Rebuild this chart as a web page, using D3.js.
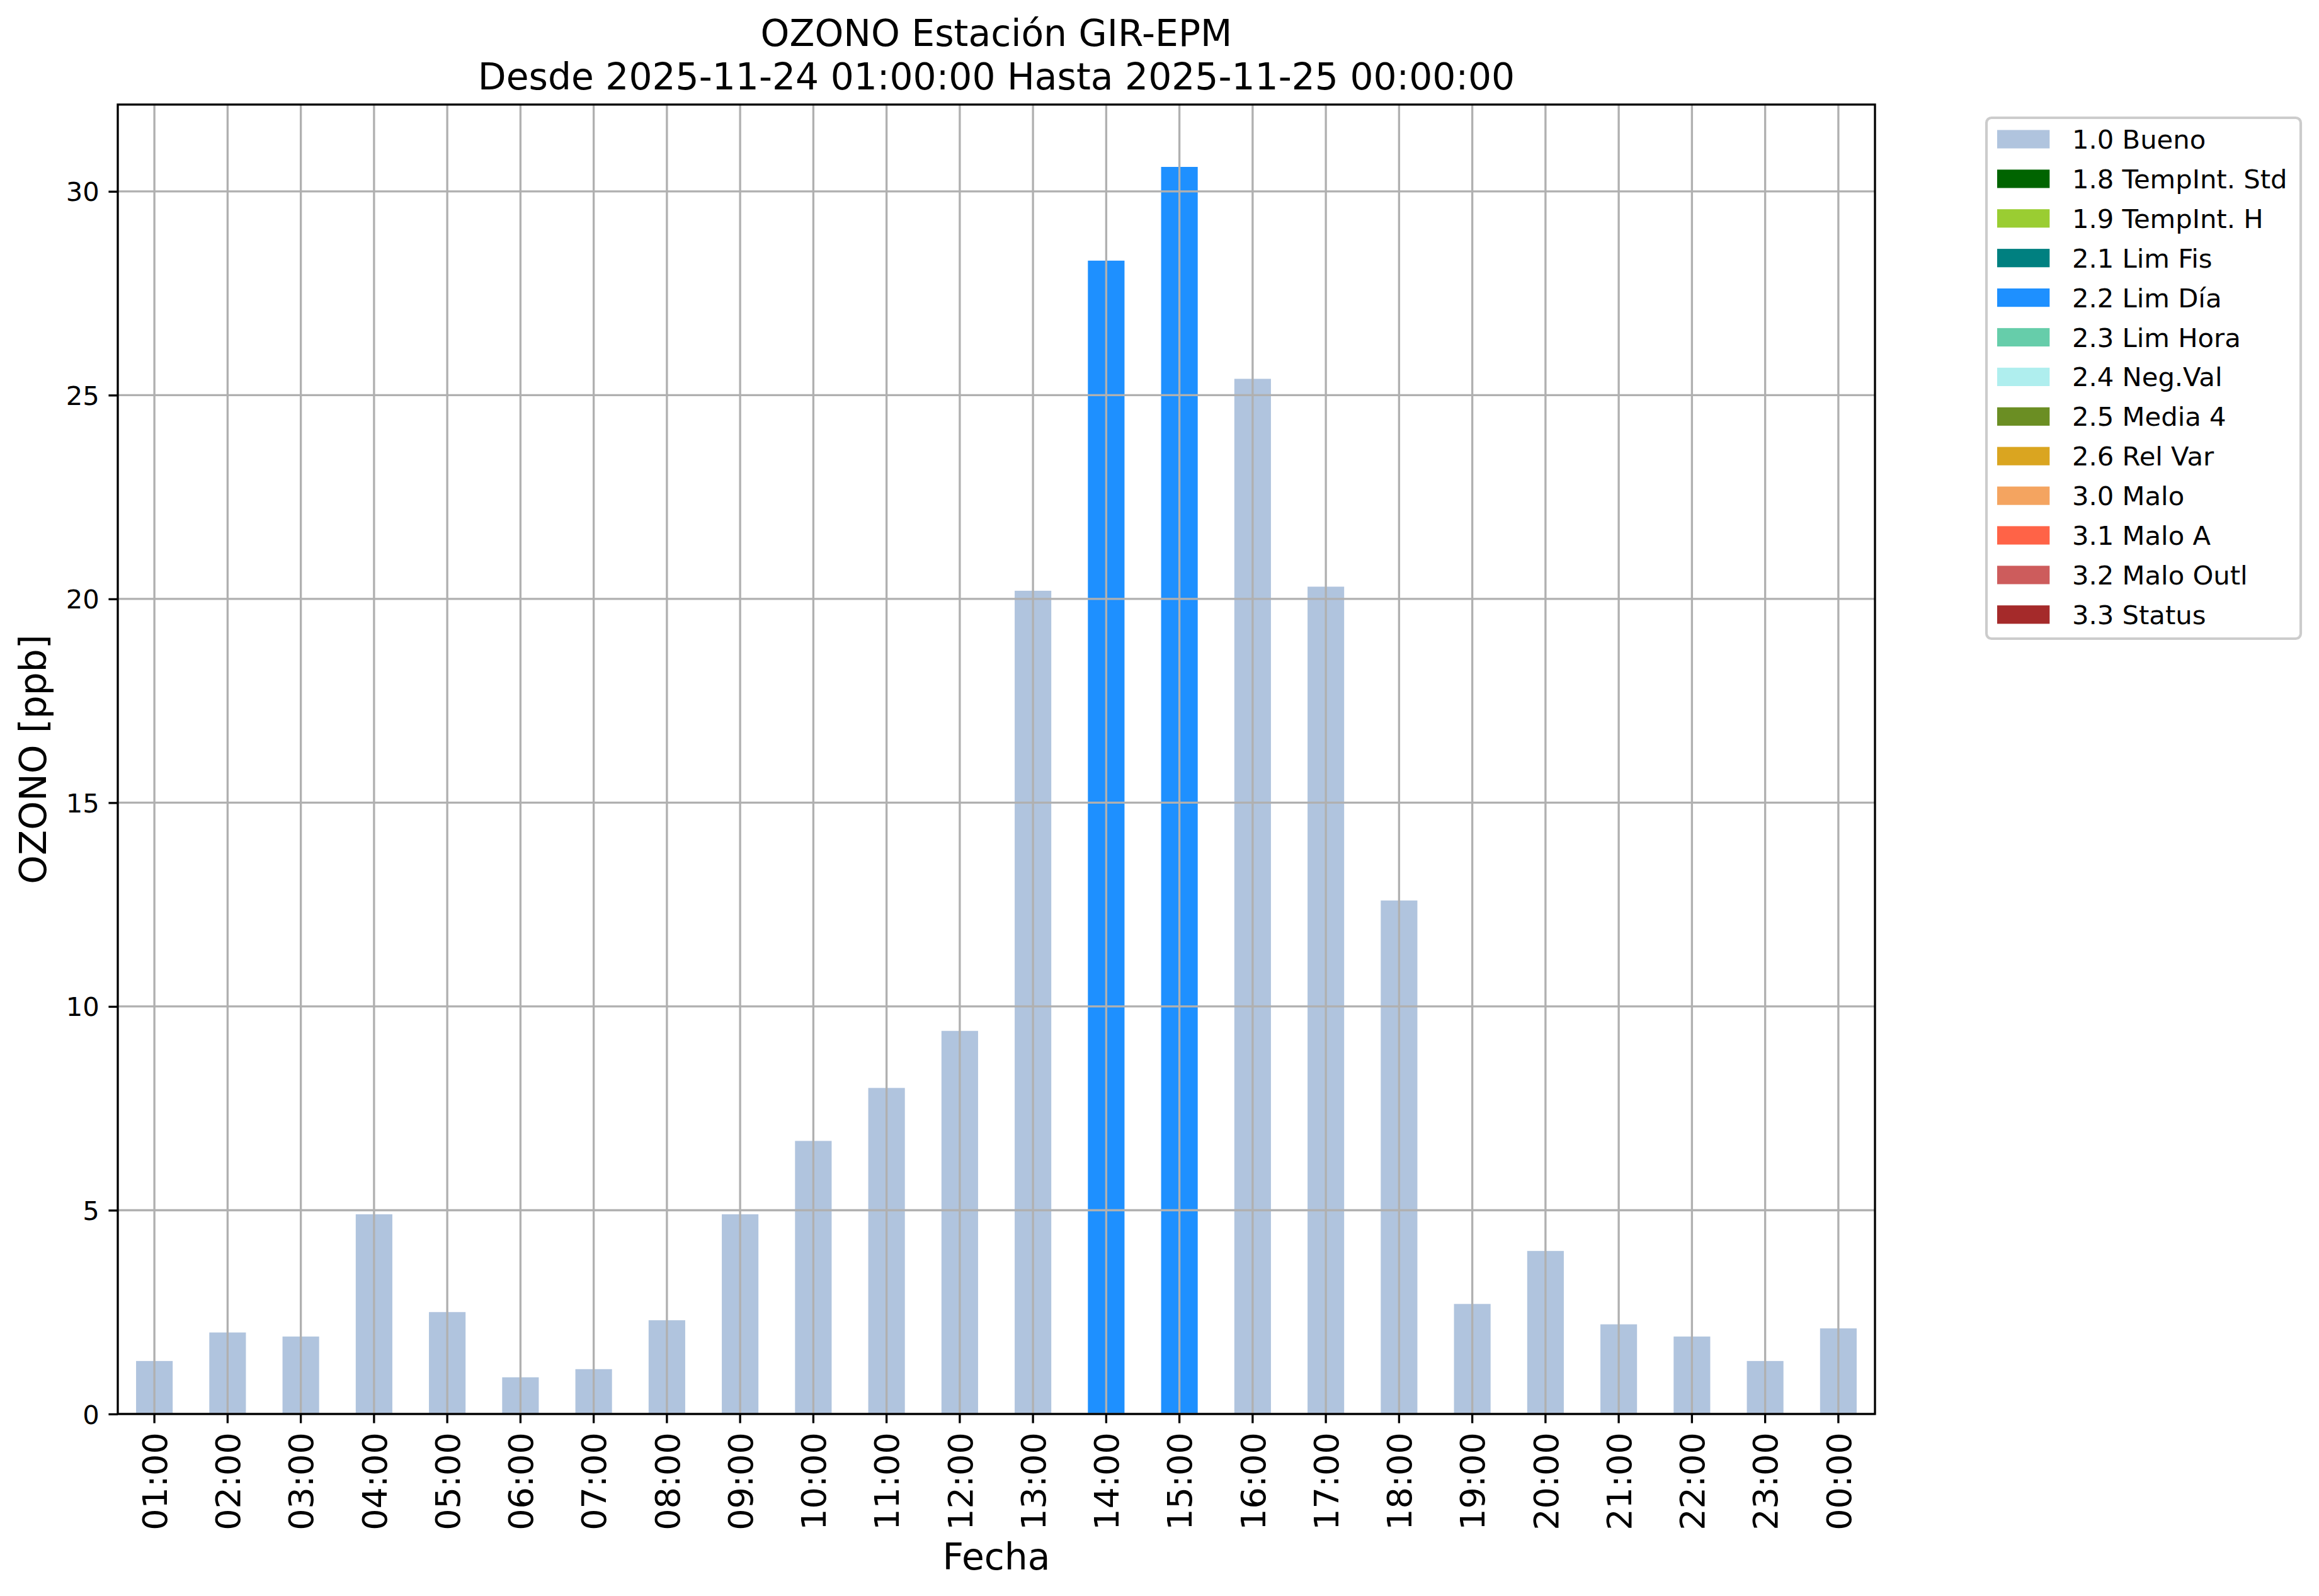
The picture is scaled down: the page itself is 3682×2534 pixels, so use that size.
<!DOCTYPE html>
<html>
<head>
<meta charset="utf-8">
<script src="https://cdn.jsdelivr.net/npm/d3@7"></script>
<style>
  html, body { margin: 0; padding: 0; background: #fff; }
  svg { display: block; font-family: "DejaVu Sans", sans-serif; }
</style>
</head>
<body>
<svg id="chart" width="3682" height="2534"></svg>
<script>
// ---------- DATA ----------
const hours = ["01:00","02:00","03:00","04:00","05:00","06:00","07:00","08:00","09:00","10:00","11:00","12:00",
               "13:00","14:00","15:00","16:00","17:00","18:00","19:00","20:00","21:00","22:00","23:00","00:00"];
const bueno  = [1.3,2.0,1.9,4.9,2.5,0.9,1.1,2.3,4.9,6.7,8.0,9.4,20.2,0,0,25.4,20.3,12.6,2.7,4.0,2.2,1.9,1.3,2.1];
const limDia = [0,0,0,0,0,0,0,0,0,0,0,0,0,28.3,30.6,0,0,0,0,0,0,0,0,0];
const flagLabels = ["1.0 Bueno","1.8 TempInt. Std","1.9 TempInt. H","2.1 Lim Fis","2.2 Lim Día","2.3 Lim Hora",
                    "2.4 Neg.Val","2.5 Media 4","2.6 Rel Var","3.0 Malo","3.1 Malo A","3.2 Malo Outl","3.3 Status"];
const flagColors = ["#B0C4DE","#006400","#9ACD32","#008080","#1E90FF","#66CDAA",
                    "#AFEEEE","#6B8E23","#DAA520","#F4A460","#FF6347","#CD5C5C","#A52A2A"];
const yTicks = [0,5,10,15,20,25,30];
const titleLines = ["OZONO Estación GIR-EPM","Desde 2025-11-24 01:00:00 Hasta 2025-11-25 00:00:00"];
const yLabel = "OZONO [ppb]";
const xLabel = "Fecha";

// ---------- BUILD TABLE ----------
const seriesValues = {"1.0 Bueno": bueno, "2.2 Lim Día": limDia};
const table = hours.map((h, i) => {
  const row = {hour: h};
  flagLabels.forEach(f => { row[f] = seriesValues[f] ? seriesValues[f][i] : 0; });
  return row;
});
const stacked = d3.stack().keys(flagLabels)(table);

// ---------- LAYOUT ----------
const L = 187, R = 2977, T = 166, B = 2245;
const svg = d3.select("#chart");
svg.append("rect").attr("width", 3682).attr("height", 2534).attr("fill", "#fff");

const yMax = d3.max(hours.map((h, i) => d3.sum(flagLabels, f => table[i][f]))) * 1.05;
const x = d3.scaleBand().domain(hours).range([L, R]).paddingInner(0.5).paddingOuter(0.25);
const y = d3.scaleLinear().domain([0, yMax]).range([B, T]);
const xc = h => x(h) + x.bandwidth() / 2;

// bars
const g = svg.append("g");
stacked.forEach((s, k) => {
  g.selectAll(null).data(s.filter(d => d[1] - d[0] > 0)).enter().append("rect")
    .attr("x", d => x(d.data.hour))
    .attr("width", x.bandwidth())
    .attr("y", d => y(d[1]))
    .attr("height", d => y(d[0]) - y(d[1]))
    .attr("fill", flagColors[k]);
});

// grid (above bars)
const grid = svg.append("g").attr("stroke", "#b0b0b0").attr("stroke-width", 3.33);
grid.selectAll(null).data(hours).enter().append("line")
  .attr("x1", d => xc(d)).attr("x2", d => xc(d)).attr("y1", T).attr("y2", B);
grid.selectAll(null).data(yTicks).enter().append("line")
  .attr("x1", L).attr("x2", R).attr("y1", d => y(d)).attr("y2", d => y(d));

// axes
const yAxis = d3.axisLeft(y).tickValues(yTicks).tickSize(14.6).tickPadding(14.6).tickFormat(d3.format("d"));
const ya = svg.append("g").attr("transform", `translate(${L},0)`).call(yAxis);
ya.select(".domain").remove();
ya.selectAll(".tick line").attr("stroke", "#000").attr("stroke-width", 3.33);
ya.selectAll(".tick text").attr("font-size", 41.7).attr("fill", "#000")
  .attr("font-family", "DejaVu Sans").attr("dy", "0.36em");

const xAxis = d3.axisBottom(x).tickSize(14.6).tickFormat(d => d);
const xa = svg.append("g").attr("transform", `translate(0,${B})`).call(xAxis);
xa.select(".domain").remove();
xa.selectAll(".tick line").attr("stroke", "#000").attr("stroke-width", 3.33);
xa.selectAll(".tick text")
  .attr("font-size", 54).attr("fill", "#000").attr("font-family", "DejaVu Sans")
  .attr("text-anchor", "end")
  .attr("x", 0).attr("y", 0).attr("dy", null)
  .attr("transform", "translate(19.7,29.2) rotate(-90)");

// frame
svg.append("rect").attr("x", L).attr("y", T).attr("width", R - L).attr("height", B - T)
  .attr("fill", "none").attr("stroke", "#000").attr("stroke-width", 3.33);

// title
svg.selectAll(null).data(titleLines).enter().append("text")
  .attr("x", (L + R) / 2).attr("y", (d, i) => 73 + i * 68.5)
  .attr("text-anchor", "middle").attr("font-size", 58.3).attr("fill", "#000")
  .text(d => d);

// axis labels
svg.append("text").attr("transform", `translate(73,${(T + B) / 2}) rotate(-90)`)
  .attr("text-anchor", "middle").attr("font-size", 58.3).attr("fill", "#000").text(yLabel);
svg.append("text").attr("x", (L + R) / 2).attr("y", 2492)
  .attr("text-anchor", "middle").attr("font-size", 58.3).attr("fill", "#000").text(xLabel);

// legend
const lg = svg.append("g");
lg.append("rect").attr("x", 3154).attr("y", 187).attr("width", 499).attr("height", 827)
  .attr("rx", 8).attr("ry", 8).attr("fill", "#fff").attr("fill-opacity", 0.8)
  .attr("stroke", "#cccccc").attr("stroke-width", 4.17);
const rows = lg.selectAll(null).data(flagLabels).enter().append("g")
  .attr("transform", (d, i) => `translate(0,${221 + i * 62.9})`);
rows.append("rect").attr("x", 3171).attr("y", -14.6).attr("width", 83.3).attr("height", 29.2)
  .attr("fill", (d, i) => flagColors[i]);
rows.append("text").attr("x", 3290).attr("y", 0).attr("dy", "0.36em")
  .attr("font-size", 41.7).attr("fill", "#000").text(d => d);
</script>
</body>
</html>
